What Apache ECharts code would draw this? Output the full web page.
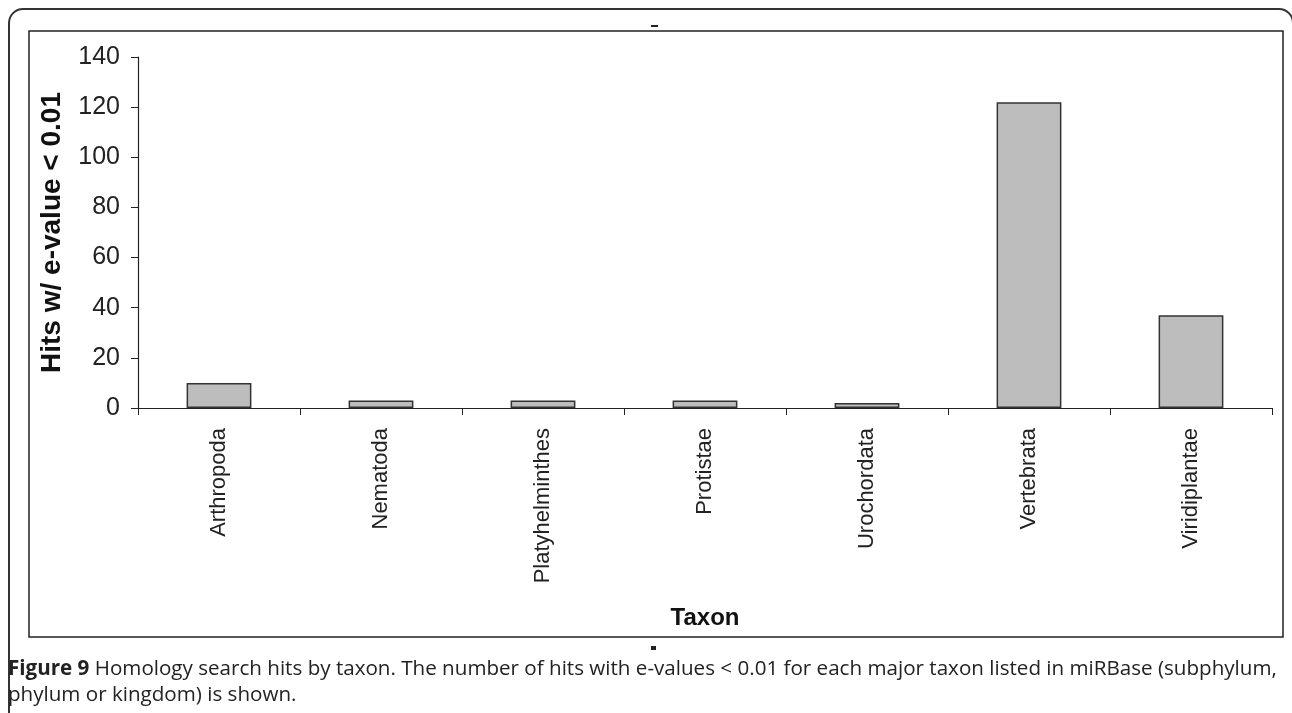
<!DOCTYPE html>
<html>
<head>
<meta charset="utf-8">
<script src="https://cdn.jsdelivr.net/npm/echarts@6/dist/echarts.min.js"></script>
<style>
html,body{margin:0;padding:0;background:#fff;}
#chart{width:1292px;height:713px;}
</style>
</head>
<body>
<div id="chart"></div>
<script>
const categories = ['Arthropoda','Nematoda','Platyhelminthes','Protistae','Urochordata','Vertebrata','Viridiplantae'];
const hits = [10, 3, 3, 3, 2, 122, 37];
const yTicks = {min: 0, max: 140, interval: 20};
const yTitle = 'Hits w/ e-value < 0.01';
const xTitle = 'Taxon';
const captionBold = 'Figure 9';
const captionLine1 = ' Homology search hits by taxon. The number of hits with e-values < 0.01 for each major taxon listed in miRBase (subphylum,';
const captionLine2 = 'phylum or kingdom) is shown.';

// fit caption line 1 to the available width
const cv = document.createElement('canvas').getContext('2d');
let capSize = 16;
for (let s = 14; s <= 22; s += 0.1) {
  cv.font = 'bold ' + s + 'px "Open Sans"';
  let w = cv.measureText(captionBold).width;
  cv.font = s + 'px "Open Sans"';
  w += cv.measureText(captionLine1).width;
  if (w <= 1270) capSize = s; else break;
}

const chart = echarts.init(document.getElementById('chart'));
chart.setOption({
  backgroundColor: '#fff',
  animation: false,
  grid: {left: 138, right: 20, top: 57, bottom: 305, containLabel: false},
  xAxis: {
    type: 'category',
    data: categories,
    boundaryGap: true,
    axisLine: {lineStyle: {color: '#222', width: 1.2}},
    axisTick: {show: true, alignWithLabel: false, length: 7, lineStyle: {color: '#222'}},
    axisLabel: {rotate: 90, margin: 20, color: '#222', fontSize: 22, fontFamily: 'Liberation Sans, Arial, sans-serif', interval: 0},
    name: xTitle,
    nameLocation: 'middle',
    nameGap: 198,
    nameTextStyle: {fontSize: 24, fontWeight: 'bold', color: '#111', fontFamily: 'Liberation Sans, Arial, sans-serif'}
  },
  yAxis: {
    type: 'value',
    min: yTicks.min, max: yTicks.max, interval: yTicks.interval,
    splitLine: {show: false},
    axisLine: {show: true, lineStyle: {color: '#222', width: 1.2}},
    axisTick: {show: true, length: 7, lineStyle: {color: '#222'}},
    axisLabel: {margin: 18, color: '#222', fontSize: 25, fontFamily: 'Liberation Sans, Arial, sans-serif'},
    name: yTitle,
    nameLocation: 'middle',
    nameGap: 72,
    nameTextStyle: {fontSize: 28, fontWeight: 'bold', color: '#111', fontFamily: 'Liberation Sans, Arial, sans-serif'}
  },
  series: [{
    type: 'bar',
    data: hits,
    barWidth: '40%',
    itemStyle: {color: '#bdbdbd', borderColor: '#333', borderWidth: 1.5}
  }],
  graphic: [
    {type: 'rect', shape: {x: 9, y: 9, width: 1284, height: 740, r: 14}, style: {fill: 'none', stroke: '#333', lineWidth: 2}, silent: true, z: -1},
    {type: 'rect', shape: {x: 29, y: 31, width: 1254, height: 606}, style: {fill: 'none', stroke: '#222', lineWidth: 1.5}, silent: true},
    {type: 'rect', shape: {x: 651, y: 25, width: 7, height: 2}, style: {fill: '#222'}, silent: true},
    {type: 'rect', shape: {x: 651, y: 646, width: 5, height: 4}, style: {fill: '#222'}, silent: true},
    {type: 'text', left: 8, top: 673 - capSize * 0.7,
      style: {
        text: '{b|' + captionBold + '}{r|' + captionLine1 + '}',
        rich: {
          b: {fontWeight: 'bold', fontSize: capSize, fontFamily: 'Open Sans', fill: '#222', color: '#222'},
          r: {fontSize: capSize, fontFamily: 'Open Sans', fill: '#222', color: '#222'}
        }
      }},
    {type: 'text', left: 8, top: 699 - capSize * 0.7,
      style: {text: captionLine2, fontSize: capSize, fontFamily: 'Open Sans', fill: '#222'}}
  ]
});
</script>
</body>
</html>
